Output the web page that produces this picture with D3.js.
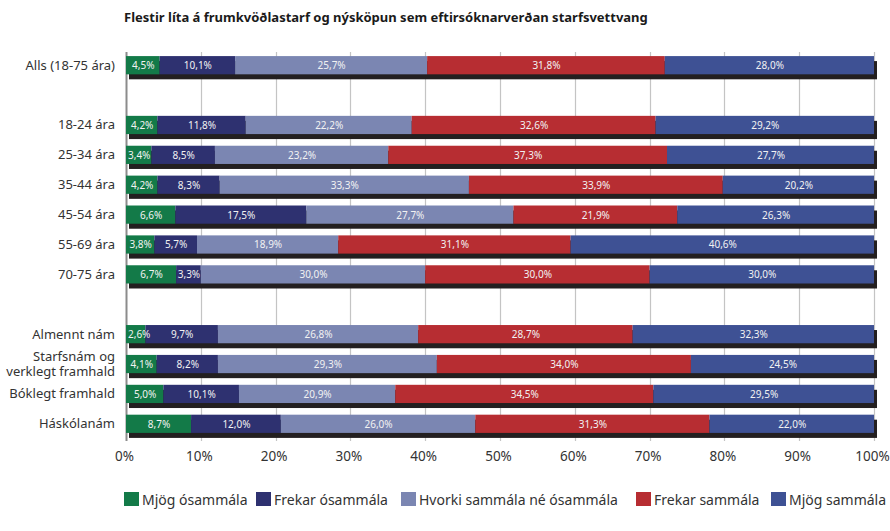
<!DOCTYPE html>
<html>
<head>
<meta charset="utf-8">
<script src="https://cdn.jsdelivr.net/npm/d3@7"></script>
<style>
  html, body { margin: 0; padding: 0; background: #fff; }
  svg { display: block; font-family: "Myriad Pro", "Noto Sans", "Open Sans", sans-serif; }
</style>
</head>
<body>
<svg id="chart" width="890" height="531"></svg>
<script>
// ── Data ──────────────────────────────────────────────────────────────────
const TITLE = "Flestir líta á frumkvöðlastarf og nýsköpun sem eftirsóknarverðan starfsvettvang";

const categories = [
  "Alls (18-75 ára)", "",
  "18-24 ára", "25-34 ára", "35-44 ára", "45-54 ára", "55-69 ára", "70-75 ára", " ",
  "Almennt nám", "Starfsnám og\nverklegt framhald", "Bóklegt framhald", "Háskólanám",
];

const seriesNames = [
  "Mjög ósammála", "Frekar ósammála", "Hvorki sammála né ósammála",
  "Frekar sammála", "Mjög sammála",
];

// one array per series, aligned with categories (null = spacer row)
const mjogOsammala   = [4.5, null, 4.2, 3.4, 4.2, 6.6, 3.8, 6.7, null, 2.6, 4.1, 5.0, 8.7];
const frekarOsammala = [10.1, null, 11.8, 8.5, 8.3, 17.5, 5.7, 3.3, null, 9.7, 8.2, 10.1, 12.0];
const hvorki         = [25.7, null, 22.2, 23.2, 33.3, 27.7, 18.9, 30.0, null, 26.8, 29.3, 20.9, 26.0];
const frekarSammala  = [31.8, null, 32.6, 37.3, 33.9, 21.9, 31.1, 30.0, null, 28.7, 34.0, 34.5, 31.3];
const mjogSammala    = [28.0, null, 29.2, 27.7, 20.2, 26.3, 40.6, 30.0, null, 32.3, 24.5, 29.5, 22.0];

const xTicks = [0, 10, 20, 30, 40, 50, 60, 70, 80, 90, 100];

const COLORS = ["#137a48", "#2e3170", "#7b86b2", "#b72d32", "#3e5194"];

// ── Layout ────────────────────────────────────────────────────────────────
const svg = d3.select("#chart");
const left = 126, right = 874;
const rowTop = 52.5, rowBottom = 436.5;

const x = d3.scaleLinear().domain([0, 100]).range([left, right]);
const y = d3.scaleBand().domain(categories.map((c, i) => i))
  .range([rowTop, rowBottom]).paddingInner(0.39).paddingOuter(0.12);

const allSeries = [mjogOsammala, frekarOsammala, hvorki, frekarSammala, mjogSammala];

// build normalised stacked rows (100% stacked, like the original)
const rows = categories.map((c, i) => {
  if (allSeries[0][i] == null) return null;
  const vals = allSeries.map(s => s[i]);
  const total = d3.sum(vals);
  let acc = 0;
  return vals.map((v, k) => {
    const seg = { k, v, x0: acc / total * 100, x1: (acc + v) / total * 100 };
    acc += v;
    return seg;
  });
});

// title
svg.append("text")
  .attr("x", 124).attr("y", 22)
  .attr("font-size", 13).attr("font-weight", "bold").attr("fill", "#1a1a1a")
  .text(TITLE);

// gridlines
svg.append("g").selectAll("line")
  .data(xTicks).enter().append("line")
  .attr("x1", d => Math.round(x(d)) + 0.5).attr("x2", d => Math.round(x(d)) + 0.5)
  .attr("y1", 52).attr("y2", 441)
  .attr("stroke", d => d === 0 ? "#8c8c8c" : "#c4c4c4")
  .attr("stroke-width", d => d === 0 ? 2 : 1.2);

// x-axis labels
const xAxis = d3.axisBottom(x).tickValues(xTicks).tickFormat(d => d + "%").tickSize(0).tickPadding(0);
const gx = svg.append("g").attr("transform", `translate(0, 451)`).call(xAxis);
gx.select(".domain").remove();
gx.selectAll("text").attr("font-size", 13.5).attr("fill", "#333").attr("dx", -2)
  .attr("font-family", "\"Myriad Pro\", \"Noto Sans\", sans-serif");

// bars
const rowG = svg.append("g").selectAll("g")
  .data(rows.map((r, i) => ({ r, i })).filter(d => d.r))
  .enter().append("g")
  .attr("transform", d => `translate(0, ${y(d.i)})`);

const bh = y.bandwidth();

// drop shadow
rowG.append("rect")
  .attr("x", x(0) + 3).attr("y", 5)
  .attr("width", x(100) - x(0)).attr("height", bh)
  .attr("fill", "#231f20");

rowG.selectAll("rect.seg")
  .data(d => d.r).enter().append("rect")
  .attr("class", "seg")
  .attr("x", d => x(d.x0)).attr("y", 0)
  .attr("width", d => x(d.x1) - x(d.x0)).attr("height", bh)
  .attr("fill", d => COLORS[d.k]);

rowG.selectAll("text.val")
  .data(d => d.r).enter().append("text")
  .attr("class", "val")
  .attr("y", bh / 2 + 4)
  .attr("text-anchor", "middle")
  .attr("font-size", 10).attr("fill", "#f2f2f2")
  .text(d => d.v.toFixed(1).replace(".", ",") + "%")
  .attr("x", function (d) {
    // keep the first labels off the left axis
    const half = this.getComputedTextLength() / 2;
    return Math.max((x(d.x0) + x(d.x1)) / 2 + 0.5, x(0) + 2 + half);
  });

// category labels
const catG = svg.append("g").selectAll("text")
  .data(categories.map((c, i) => ({ c, i })).filter(d => d.c.trim()))
  .enter().append("text")
  .attr("text-anchor", "end")
  .attr("font-size", 13).attr("fill", "#333")
  .attr("transform", d => `translate(115, ${y(d.i) + bh / 2})`);

catG.each(function (d) {
  const lines = d.c.split("\n");
  const t = d3.select(this);
  lines.forEach((ln, j) => {
    t.append("tspan").attr("x", 0)
      .attr("y", 4.5 + (j - (lines.length - 1) / 2) * 14.5)
      .text(ln);
  });
});

// legend
const legendX = [124, 256, 401, 636, 771];
const lg = svg.append("g").selectAll("g")
  .data(seriesNames).enter().append("g")
  .attr("transform", (d, i) => `translate(${legendX[i]}, 492)`);
lg.append("rect").attr("width", 15).attr("height", 14).attr("fill", (d, i) => COLORS[i]);
lg.append("text").attr("x", 18).attr("y", 12.5)
  .attr("font-size", 14).attr("fill", "#333").text(d => d);
</script>
</body>
</html>
